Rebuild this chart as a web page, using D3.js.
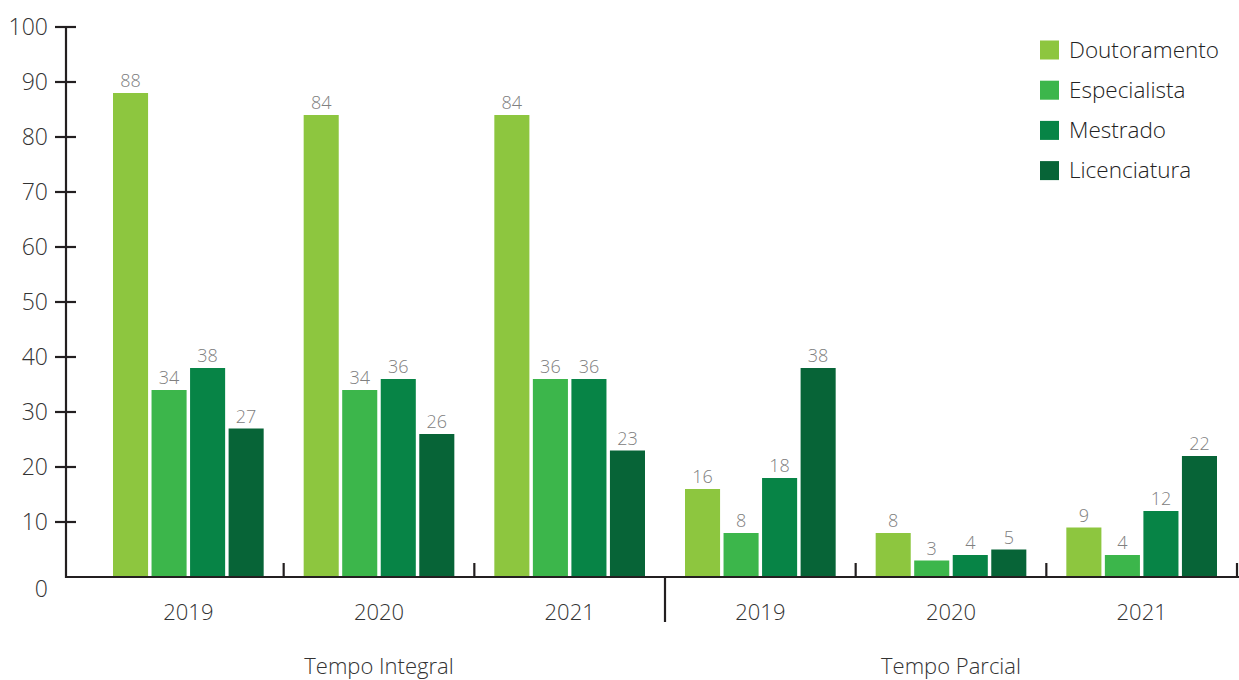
<!DOCTYPE html>
<html>
<head>
<meta charset="utf-8">
<script src="https://cdn.jsdelivr.net/npm/d3@7"></script>
<style>
  html, body { margin: 0; padding: 0; background: #fff; }
  svg { display: block; font-family: "Open Sans", "Noto Sans", sans-serif; font-weight: 300; }
</style>
</head>
<body>
<svg id="chart" width="1239" height="680"></svg>
<script>
const series = ["Doutoramento", "Especialista", "Mestrado", "Licenciatura"];
const colors = ["#8dc63f", "#3cb64b", "#078446", "#076437"];
const years = ["2019", "2020", "2021"];
const regimes = ["Tempo Integral", "Tempo Parcial"];
const doutoramento = [88, 84, 84, 16, 8, 9];
const especialista = [34, 34, 36, 8, 3, 4];
const mestrado = [38, 36, 36, 18, 4, 12];
const licenciatura = [27, 26, 23, 38, 5, 22];
const yTicks = [0, 10, 20, 30, 40, 50, 60, 70, 80, 90, 100];

const values = [doutoramento, especialista, mestrado, licenciatura];
const groups = [];
regimes.forEach(r => years.forEach(yv => groups.push(r + "|" + yv)));

const svg = d3.select("#chart");
const axisColor = "#231f20";

const y = d3.scaleLinear().domain([0, 100]).range([577, 27]);
const x0 = d3.scaleBand().domain(groups).range([93, 1237]).padding(0);
const x1 = d3.scaleBand().domain(series).range([20, x0.bandwidth() - 20]).paddingInner(0.09).paddingOuter(0);
const xr = d3.scaleBand().domain(regimes).range([93, 1237]).padding(0);

// bars
series.forEach((s, si) => {
  const g = svg.append("g");
  groups.forEach((gk, gi) => {
    const v = values[si][gi];
    const bx = x0(gk) + x1(s);
    g.append("rect")
      .attr("x", bx).attr("y", y(v))
      .attr("width", x1.bandwidth()).attr("height", y(0) - y(v))
      .attr("fill", colors[si]);
    g.append("text")
      .attr("x", bx + x1.bandwidth() / 2).attr("y", y(v) - 6)
      .attr("text-anchor", "middle")
      .attr("font-size", 18).attr("fill", "#808080")
      .text(v);
  });
});

// y axis
const ya = svg.append("g");
ya.append("line").attr("x1", 66).attr("x2", 66).attr("y1", y(100)).attr("y2", y(0) + 1)
  .attr("stroke", axisColor).attr("stroke-width", 2.2);
yTicks.forEach(t => {
  if (t > 0) {
    ya.append("line").attr("x1", 55).attr("x2", 76).attr("y1", y(t)).attr("y2", y(t))
      .attr("stroke", axisColor).attr("stroke-width", 2.2);
  }
  ya.append("text")
    .attr("x", 48).attr("y", t === 0 ? y(t) + 12 : y(t))
    .attr("dy", "0.35em").attr("text-anchor", "end")
    .attr("font-size", 23).attr("fill", "#333")
    .text(t);
});

// x axis
const xa = svg.append("g");
xa.append("line").attr("x1", 65).attr("x2", 1239).attr("y1", y(0)).attr("y2", y(0))
  .attr("stroke", axisColor).attr("stroke-width", 2.2);
groups.forEach((gk, gi) => {
  const right = x0(gk) + x0.bandwidth();
  if (gi === 2) {
    xa.append("line").attr("x1", right).attr("x2", right).attr("y1", y(0)).attr("y2", y(0) + 45)
      .attr("stroke", axisColor).attr("stroke-width", 2.2);
  } else {
    xa.append("line").attr("x1", right).attr("x2", right).attr("y1", y(0) - 14).attr("y2", y(0))
      .attr("stroke", axisColor).attr("stroke-width", 2.2);
  }
  xa.append("text")
    .attr("x", x0(gk) + x0.bandwidth() / 2).attr("y", 620)
    .attr("text-anchor", "middle").attr("font-size", 22).attr("fill", "#333")
    .text(gk.split("|")[1]);
});
regimes.forEach(r => {
  xa.append("text")
    .attr("x", xr(r) + xr.bandwidth() / 2).attr("y", 674)
    .attr("text-anchor", "middle").attr("font-size", 22).attr("fill", "#333")
    .text(r);
});

// legend
const lg = svg.append("g");
series.forEach((s, i) => {
  const cy = 50 + i * 40.2;
  lg.append("rect").attr("x", 1040).attr("y", cy - 9.5).attr("width", 19).attr("height", 19)
    .attr("fill", colors[i]);
  lg.append("text").attr("x", 1069).attr("y", cy).attr("dy", "0.35em")
    .attr("font-size", 22.5).attr("fill", "#222").text(s);
});
</script>
</body>
</html>
